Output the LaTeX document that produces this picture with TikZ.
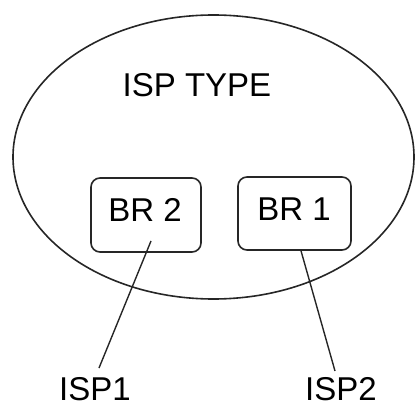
\documentclass[tikz,border=0pt]{standalone}
\usepackage{fontspec}
\setmainfont{Liberation Sans}
\usetikzlibrary{shapes.geometric}
\begin{document}
\begin{tikzpicture}[x=1pt, y=-1pt,
  outline/.style={draw=black!85, line width=1.6pt},
  brbox/.style={outline, rounded corners=9pt, inner sep=0pt},
  lbl/.style={inner sep=0pt, anchor=base, font=\fontsize{33}{33}\selectfont},
  link/.style={draw=black!85, line width=1.4pt}]
  \useasboundingbox (0,0) rectangle (415,406);
  % enclosing ISP domain
  \node[outline, ellipse, inner sep=0pt, minimum width=401pt, minimum height=284pt] (isp) at (213.5,157) {};
  \node[lbl] (title) at (197,97) {ISP TYPE};
  % border routers
  \node[brbox, minimum width=110pt, minimum height=74pt] (br2) at (146,215) {};
  \node[lbl] (br2t) at (145,222) {BR 2};
  \node[brbox, minimum width=113pt, minimum height=73pt] (br1) at (294.5,213.5) {};
  \node[lbl] (br1t) at (294,221) {BR 1};
  % upstream providers
  \node[lbl] (isp1) at (95,400) {ISP1};
  \node[lbl] (isp2) at (341,400.5) {ISP2};
  \coordinate (br2tail) at (151,241);
  \coordinate (isp1top) at (99,368);
  \coordinate (isp2top) at (335,371);
  \draw[link] (br2tail) -- (isp1top);
  \draw[link] (br1.south -| 301,0) -- (isp2top);
\end{tikzpicture}
\end{document}
